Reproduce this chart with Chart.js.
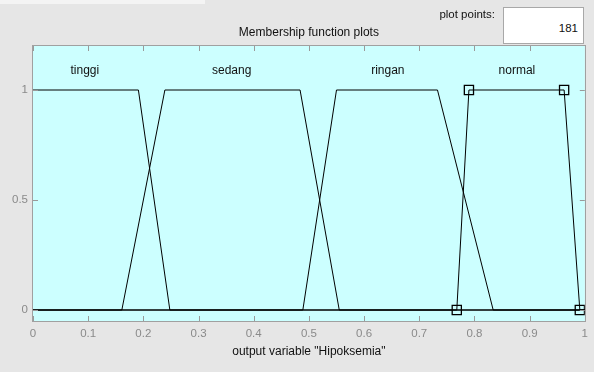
<!DOCTYPE html>
<html>
<head>
<meta charset="utf-8">
<script src="https://cdn.jsdelivr.net/npm/chart.js@4.4.1/dist/chart.umd.min.js"></script>
<style>
  html, body { margin: 0; padding: 0; background: #e6e6e6; }
  #wrap { position: relative; width: 594px; height: 372px; overflow: hidden; }
  #strip { position: absolute; left: 0; top: 0; width: 205px; height: 4px; background: #f4f4f4; }
  #ppLabel { position: absolute; left: 420px; top: 8px; width: 75px; text-align: right;
             font: 11.5px "Liberation Sans", Arial, sans-serif; color: #111; }
  #ppBox { position: absolute; left: 503px; top: 7px; width: 79px; height: 35px; background: #fff;
           border: 1px solid #a8a8a8; box-sizing: content-box;
           font: 11.5px "Liberation Sans", Arial, sans-serif; color: #111; text-align: right; }
  #ppBox span { position: absolute; right: 5px; top: 14px; }
  canvas { position: absolute; left: 0; top: 0; }
</style>
</head>
<body>
<div id="wrap">
  <div id="strip"></div>
  <canvas id="c" width="594" height="372"></canvas>
  <div id="ppLabel">plot points:</div>
  <div id="ppBox"><span id="ppVal"></span></div>
</div>
<script>
// ---- data ----
const plotPoints = 181;
const chartTitle = "Membership function plots";
const xAxisTitle = 'output variable "Hipoksemia"';
const xTicks = [0, 0.1, 0.2, 0.3, 0.4, 0.5, 0.6, 0.7, 0.8, 0.9, 1];
const yTicks = [0, 0.5, 1];

const mfNames = ["tinggi", "sedang", "ringan", "normal"];
const mfLabelX = [0.094, 0.36, 0.643, 0.877];
const mfLabelY = 1.09;

const tinggiX = [0, 0.191, 0.248, 1];
const tinggiY = [1, 1, 0, 0];
const sedangX = [0, 0.161, 0.239, 0.484, 0.555, 1];
const sedangY = [0, 0, 1, 1, 0, 0];
const ringanX = [0, 0.489, 0.55, 0.733, 0.834, 1];
const ringanY = [0, 0, 1, 1, 0, 0];
const normalX = [0, 0.768, 0.79, 0.9625, 0.991, 1];
const normalY = [0, 0, 1, 1, 0, 0];
const normalMarked = [false, true, true, true, true, false];

document.getElementById('ppVal').textContent = String(plotPoints);

function pts(xs, ys) { return xs.map((x, i) => ({ x: x, y: ys[i] })); }

const FONT = '"Liberation Sans", Arial, sans-serif';

const decor = {
  id: 'decor',
  beforeDatasetsDraw(chart) {
    const { ctx, chartArea: a } = chart;
    ctx.save();
    ctx.fillStyle = '#ccffff';
    ctx.fillRect(a.left, a.top, a.right - a.left, a.bottom - a.top);
    ctx.restore();
  },
  afterDraw(chart) {
    const { ctx, chartArea: a, scales } = chart;
    const xs = scales.x, ys = scales.y;
    ctx.save();
    // inside ticks
    ctx.strokeStyle = '#9a9a9a';
    ctx.lineWidth = 1;
    ctx.beginPath();
    xTicks.forEach(v => {
      const px = Math.round(xs.getPixelForValue(v)) + 0.5;
      ctx.moveTo(px, a.top); ctx.lineTo(px, a.top + 5);
      ctx.moveTo(px, a.bottom); ctx.lineTo(px, a.bottom - 5);
    });
    yTicks.forEach(v => {
      const py = Math.round(ys.getPixelForValue(v)) + 0.5;
      ctx.moveTo(a.left, py); ctx.lineTo(a.left + 5, py);
      ctx.moveTo(a.right, py); ctx.lineTo(a.right - 5, py);
    });
    ctx.stroke();
    // border
    ctx.strokeStyle = '#a0a0a0';
    ctx.strokeRect(Math.round(a.left) - 0.5, Math.round(a.top) - 0.5,
                   Math.round(a.right - a.left) + 1, Math.round(a.bottom - a.top) + 1);
    // MF labels
    ctx.fillStyle = '#111';
    ctx.font = '12px ' + FONT;
    ctx.textAlign = 'center';
    ctx.textBaseline = 'middle';
    mfNames.forEach((n, i) => {
      ctx.fillText(n, xs.getPixelForValue(mfLabelX[i]), ys.getPixelForValue(mfLabelY));
    });
    // title
    ctx.fillText(chartTitle, (a.left + a.right) / 2, a.top - 13);
    // x axis title
    ctx.fillText(xAxisTitle, (a.left + a.right) / 2, a.bottom + 31);
    ctx.restore();
  }
};

new Chart(document.getElementById('c'), {
  type: 'scatter',
  data: {
    datasets: [
      { label: mfNames[0], data: pts(tinggiX, tinggiY) },
      { label: mfNames[1], data: pts(sedangX, sedangY) },
      { label: mfNames[2], data: pts(ringanX, ringanY) },
      { label: mfNames[3], data: pts(normalX, normalY),
        pointRadius: normalMarked.map(m => m ? 6.5 : 0),
        pointHoverRadius: normalMarked.map(m => m ? 6.5 : 0),
        pointStyle: 'rect', pointBorderColor: '#000', pointBorderWidth: 1.3,
        pointBackgroundColor: 'rgba(0,0,0,0)' }
    ].map(d => Object.assign({
      showLine: true, borderColor: '#000', borderWidth: 1, tension: 0,
      pointRadius: 0, pointHoverRadius: 0, fill: false
    }, d))
  },
  options: {
    responsive: false,
    animation: false,
    events: [],
    layout: { padding: { left: 0, right: 9, top: 46, bottom: 0 } },
    plugins: { legend: { display: false }, tooltip: { enabled: false }, title: { display: false } },
    scales: {
      x: {
        type: 'linear', min: 0, max: 1,
        grid: { display: false, drawTicks: false }, border: { display: false },
        afterBuildTicks: s => { s.ticks = xTicks.map(v => ({ value: v })); },
        afterFit: s => { s.height = 51; },
        ticks: { color: '#8a8a8a', font: { family: FONT, size: 11.5 }, padding: 6,
                 maxRotation: 0, autoSkip: false, callback: v => String(v) }
      },
      y: {
        type: 'linear', min: -0.05, max: 1.2,
        grid: { display: false, drawTicks: false }, border: { display: false },
        afterBuildTicks: s => { s.ticks = yTicks.map(v => ({ value: v })); },
        afterFit: s => { s.width = 33; },
        ticks: { color: '#8a8a8a', font: { family: FONT, size: 11.5 }, padding: 5,
                 autoSkip: false, callback: v => String(v) }
      }
    }
  },
  plugins: [decor]
});
</script>
</body>
</html>
